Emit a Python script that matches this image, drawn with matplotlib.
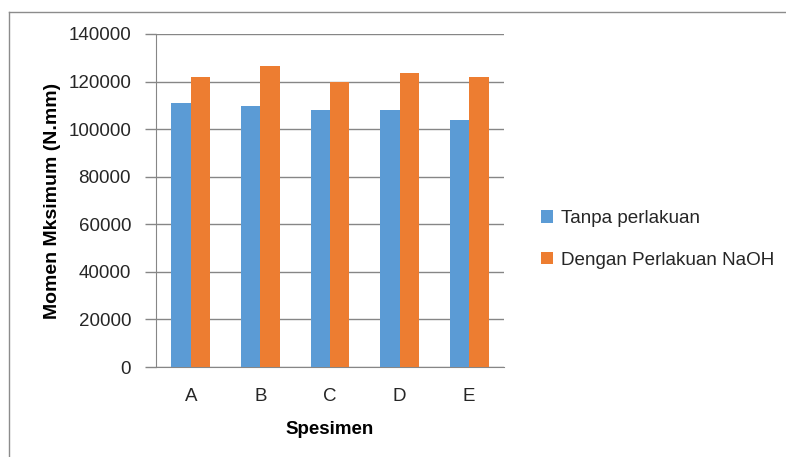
import matplotlib
matplotlib.use("Agg")
import matplotlib.pyplot as plt
import numpy as np
from matplotlib.lines import Line2D

plt.rcParams['font.family'] = ['Liberation Sans', 'DejaVu Sans']

specimens = ["A", "B", "C", "D", "E"]
tanpa_perlakuan = [110900, 109600, 107900, 107900, 103700]
perlakuan_naoh = [121800, 126400, 120000, 123500, 121800]
y_ticks = [0, 20000, 40000, 60000, 80000, 100000, 120000, 140000]

blue = "#5B9BD5"
orange = "#ED7D31"
grid_col = "#868686"
text_col = "#262626"

fig = plt.figure(figsize=(7.86, 4.57), dpi=100)
W, H = 786, 457
ax = fig.add_axes([156 / W, 1 - 367 / H, (504 - 156) / W, (367 - 34) / H])

# chart frame (top and left edges)
fy = 1 - 11.5 / H
fx = 8.5 / W
fig.lines.append(Line2D([fx, 1.0], [fy, fy], transform=fig.transFigure,
                        color="#8C8C8C", linewidth=1.0))
fig.lines.append(Line2D([fx, fx], [0.0, fy], transform=fig.transFigure,
                        color="#8C8C8C", linewidth=1.0))

x = np.arange(len(specimens))
bw = 0.28
ax.bar(x - bw / 2, tanpa_perlakuan, bw, color=blue, label="Tanpa perlakuan", zorder=3)
ax.bar(x + bw / 2, perlakuan_naoh, bw, color=orange, label="Dengan Perlakuan NaOH", zorder=3)

ax.set_xlim(-0.5, len(specimens) - 0.5)
ax.set_ylim(0, 140000)
ax.set_yticks(y_ticks)
ax.set_yticklabels([str(v) for v in y_ticks], fontsize=13.5, color=text_col)
ax.set_xticks(x)
ax.set_xticklabels(specimens, fontsize=13.5, color=text_col)
ax.tick_params(axis="y", length=8, width=1.0, color=grid_col, pad=10)
ax.tick_params(axis="x", length=0, pad=15)
ax.yaxis.grid(True, color=grid_col, linewidth=1.0, zorder=0)
for s in ["top", "right"]:
    ax.spines[s].set_visible(False)
ax.spines["left"].set_color(grid_col)
ax.spines["bottom"].set_color(grid_col)

ax.set_ylabel("Momen Mksimum (N.mm)", fontsize=14, fontweight="bold", labelpad=5)
ax.set_xlabel("Spesimen", fontsize=13.5, fontweight="bold", labelpad=12)

fig.legend(loc="center left", bbox_to_anchor=(541 / W, 1 - 239.5 / H), frameon=False,
           borderpad=0, borderaxespad=0,
           fontsize=13.6, handlelength=0.62, handleheight=0.62, handletextpad=0.42,
           labelspacing=1.3, labelcolor=text_col)

fig.savefig("out.png", dpi=100)
